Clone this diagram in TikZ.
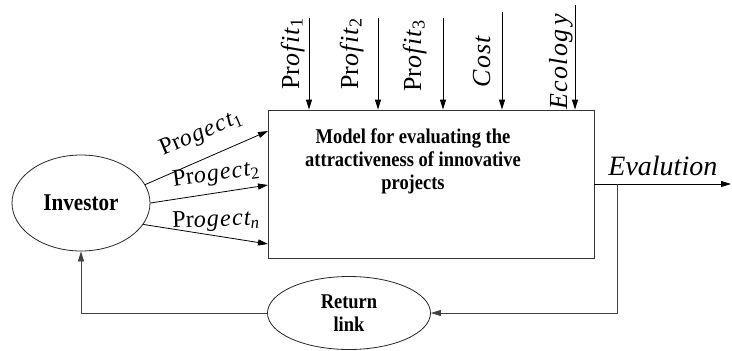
\documentclass[tikz,border=0pt]{standalone}
\usepackage{fontspec}
\setmainfont{Liberation Serif}
\newfontfamily\narrowserif[FakeStretch=0.88]{Liberation Serif}
\newfontfamily\spacedserif[LetterSpace=5]{Liberation Serif}
\newcommand{\spit}[1]{{\spacedserif\itshape #1}}
\usetikzlibrary{arrows.meta,shapes.geometric}

\begin{document}
\begin{tikzpicture}[x=1pt,y=-1pt,>={Triangle[length=10pt,width=6pt]},line width=0.8pt,
  block/.style={draw=black!80,rectangle,inner sep=0pt,minimum width=326pt,minimum height=148pt},
  actor/.style={draw=black!85,ellipse,inner sep=0pt,align=center,font=\narrowserif\bfseries\fontsize{21}{23}\selectfont},
  inname/.style={inner sep=0pt,font=\fontsize{24}{26}\selectfont},
  topname/.style={inner sep=0pt,rotate=90,anchor=base west,font=\fontsize{26}{28}\selectfont},
  feed/.style={->,draw=black!75,line width=0.7pt}]
  \useasboundingbox (0,0) rectangle (732,351);

  % main block and actors
  \node[block] (model) at (431,184) {};
  \node[align=center,font=\narrowserif\bfseries\fontsize{21}{23}\selectfont] (modeltext) at (413,161)
    {Model for evaluating the\\attractiveness of innovative\\projects};
  \node[actor,minimum width=138pt,minimum height=96pt,font=\narrowserif\bfseries\fontsize{24}{26}\selectfont] (investor) at (81,203) {Investor};
  \node[actor,minimum width=163pt,minimum height=73pt] (retlink) at (349,313) {Return\\link};

  % inputs from above
  \coordinate (p1) at (309,18);
  \coordinate (p2) at (378,18);
  \coordinate (p3) at (443,18);
  \coordinate (cost) at (502,12);
  \coordinate (eco) at (575,5);
  \foreach \c in {p1,p2,p3,cost,eco}
    \draw[->] (\c) -- (\c |- model.north);
  \node[topname] (np1) at (299,90) {Pr\spit{ofit}\textsubscript{1}};
  \node[topname] (np2) at (358,90) {Pr\spit{ofit}\textsubscript{2}};
  \node[topname] (np3) at (421,92) {Pr\spit{ofit}\textsubscript{3}};
  \node[topname] (ncost) at (490,88) {\spit{Cost}};
  \node[topname] (neco) at (567,110) {\spit{Ecolog\hspace{4pt}y}};

  % projects from the investor
  \coordinate (j1) at (268,131);
  \coordinate (j2) at (268,185);
  \coordinate (jn) at (268,244);
  \draw[->] (investor.16) -- (j1);
  \draw[->] (investor.0) -- (j2);
  \draw[->] (investor.-19) -- (jn);
  \node[inname,rotate=23] (nj1) at (201,134) {Pr\spit{ogect}\textsubscript{1}};
  \node[inname,rotate=8] (nj2) at (216,175) {Pr\spit{ogect}\textsubscript{2}};
  \node[inname,rotate=2] (njn) at (216,221) {Pr\spit{ogect}\textsubscript{\textit{n}}};

  % output and return link
  \coordinate (out) at (731,184);
  \coordinate (fb) at (617,184);
  \draw[->] (model.east) -- (out);
  \node[inner sep=0pt,anchor=base west,font=\itshape\fontsize{28}{30}\selectfont] (evl) at (608,175) {Evalution};
  \draw[feed] (fb) |- (retlink.east);
  \draw[feed] (retlink.west) -| (investor.south);
\end{tikzpicture}
\end{document}
